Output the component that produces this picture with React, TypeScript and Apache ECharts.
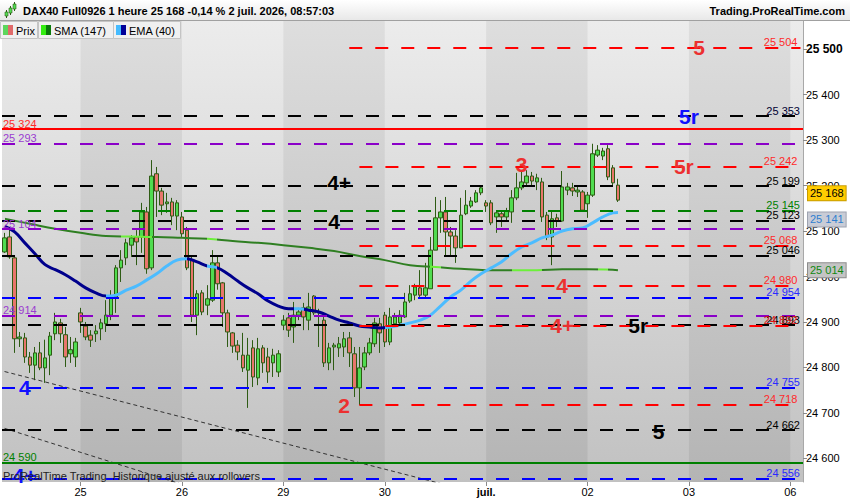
import { useEffect, useRef } from 'react';
import * as echarts from 'echarts';

const FONT = '"Liberation Sans", Arial, Helvetica, sans-serif';

// hourly bar slots: 20 per session, empty slots on the right for the coming sessions
const SLOT_COUNT = 158;

const dayLabels: [number, string][] = [
    [15, '25'], [35, '26'], [55, '29'], [75, '30'], [95, 'juil.'], [115, '02'], [135, '03'], [155, '06'],
];

// sessions drawn on the darker background band
const darkSessions: [number, number][] = [[15, 35], [55, 75], [95, 115], [135, 155]];

const priceTicks = [24600, 24700, 24800, 24900, 25000, 25100, 25200, 25300, 25400, 25500];

// hourly candles [open, close, low, high]
const candles: number[][] = [
    [25054, 25085, 25052, 25096], [25087, 25043, 25039, 25107], [25041, 24863, 24832, 25045], [24863, 24867, 24845, 24878],
    [24865, 24823, 24810, 24876], [24823, 24805, 24788, 24834], [24805, 24832, 24772, 24845], [24832, 24799, 24794, 24856],
    [24799, 24821, 24766, 24861], [24827, 24869, 24783, 24878], [24874, 24900, 24860, 24920], [24898, 24874, 24854, 24907],
    [24872, 24823, 24801, 24889], [24830, 24839, 24810, 24867], [24823, 24856, 24801, 24865], [24920, 24900, 24876, 24931],
    [24891, 24867, 24860, 24900], [24871, 24860, 24845, 24882], [24874, 24880, 24856, 24893], [24885, 24898, 24860, 24907],
    [24896, 24915, 24878, 24948], [24915, 24957, 24904, 24970], [24955, 25019, 24920, 25025], [25019, 25036, 24988, 25058],
    [25041, 25074, 25025, 25083], [25069, 25085, 25043, 25091], [25087, 25076, 25025, 25102], [25087, 25142, 25052, 25162],
    [25142, 25017, 25006, 25153], [25019, 25221, 25014, 25256], [25226, 25188, 25131, 25241], [25188, 25157, 25135, 25195],
    [25160, 25164, 25140, 25184], [25164, 25133, 25113, 25173], [25133, 25162, 25102, 25168], [25131, 25094, 25087, 25142],
    [25102, 25019, 25014, 25109], [25036, 24915, 24900, 25043], [24915, 24962, 24871, 24970], [24964, 24922, 24915, 24970],
    [24937, 24951, 24915, 24981], [24948, 25030, 24944, 25058], [25030, 24984, 24971, 25045], [24986, 24920, 24889, 24988],
    [24920, 24878, 24845, 24927], [24876, 24847, 24832, 24878], [24849, 24834, 24816, 24860], [24827, 24799, 24790, 24876],
    [24794, 24827, 24711, 24865], [24843, 24779, 24757, 24860], [24777, 24841, 24761, 24865], [24843, 24810, 24788, 24849],
    [24823, 24790, 24766, 24843], [24810, 24827, 24779, 24841], [24790, 24830, 24779, 24838], [24893, 24904, 24882, 24915],
    [24909, 24882, 24867, 24920], [24889, 24915, 24854, 24944], [24915, 24922, 24904, 24931], [24931, 24911, 24882, 24942],
    [24904, 24933, 24882, 24964], [24957, 24920, 24915, 24959], [24920, 24922, 24845, 24929], [24904, 24810, 24801, 24920],
    [24810, 24843, 24794, 24854], [24845, 24849, 24794, 24854], [24843, 24852, 24823, 24867], [24845, 24863, 24823, 24878],
    [24865, 24832, 24801, 24878], [24830, 24755, 24735, 24845], [24755, 24799, 24717, 24845], [24801, 24832, 24794, 24845],
    [24832, 24854, 24827, 24865], [24852, 24898, 24845, 24909], [24896, 24876, 24832, 24909], [24915, 24856, 24845, 24922],
    [24856, 24911, 24849, 24931], [24896, 24911, 24889, 24920], [24898, 24915, 24893, 24926], [24911, 24944, 24909, 24964],
    [24946, 24962, 24942, 24981], [24959, 24977, 24948, 24984], [24975, 24959, 24955, 25014], [24959, 24975, 24955, 25030],
    [24973, 25058, 24973, 25087], [25058, 25129, 25058, 25175], [25129, 25142, 25096, 25168], [25142, 25098, 25047, 25175],
    [25098, 25089, 25045, 25109], [25089, 25063, 25030, 25102], [25063, 25135, 25063, 25173], [25138, 25157, 25135, 25190],
    [25155, 25166, 25151, 25175], [25164, 25184, 25162, 25190], [25184, 25195, 25179, 25199], [25162, 25155, 25142, 25168],
    [25162, 25118, 25113, 25168], [25131, 25140, 25096, 25146], [25138, 25131, 25109, 25142], [25131, 25144, 25124, 25151],
    [25142, 25173, 25118, 25190], [25173, 25195, 25168, 25228], [25195, 25208, 25190, 25234], [25206, 25221, 25199, 25234],
    [25221, 25210, 25201, 25230], [25208, 25217, 25190, 25226], [25208, 25131, 25120, 25217], [25135, 25087, 25080, 25142],
    [25087, 25127, 25025, 25142], [25129, 25122, 25109, 25138], [25122, 25197, 25120, 25232], [25190, 25197, 25179, 25206],
    [25195, 25188, 25177, 25206], [25186, 25190, 25175, 25201], [25186, 25146, 25142, 25190], [25160, 25179, 25129, 25186],
    [25179, 25270, 25175, 25292], [25267, 25278, 25263, 25289], [25265, 25276, 25256, 25283], [25281, 25219, 25212, 25289],
    [25239, 25206, 25199, 25245], [25201, 25168, 25164, 25215],
];

// SMA (147) [slot, price]
const smaPoints: [number, number][] = [
    [0, 25127], [5, 25116], [10, 25105], [15, 25096], [20, 25089], [25, 25088], [30, 25087], [35, 25085],
    [40, 25083], [45, 25078], [50, 25074], [55, 25069], [60, 25063], [65, 25056], [70, 25045], [75, 25036],
    [80, 25025], [85, 25021], [90, 25017], [95, 25014], [100, 25014], [105, 25014], [110, 25016], [115, 25016],
    [120, 25015], [121, 25014],
];

// EMA (40) [slot, price]
const emaPoints: [number, number][] = [
    [0, 25111], [2, 25098], [4, 25074], [6, 25050], [8, 25026], [10, 25015], [12, 25004], [14, 24990],
    [16, 24975], [18, 24964], [20, 24957], [22, 24959], [24, 24970], [26, 24979], [28, 24992], [30, 25006],
    [32, 25023], [34, 25036], [36, 25039], [38, 25032], [40, 25023], [42, 25019], [44, 25006], [46, 24990],
    [48, 24975], [50, 24962], [52, 24946], [54, 24935], [56, 24929], [58, 24929], [60, 24926], [62, 24922],
    [64, 24913], [66, 24904], [68, 24898], [70, 24891], [72, 24889], [74, 24887], [76, 24889], [78, 24893],
    [80, 24898], [82, 24904], [84, 24915], [86, 24935], [88, 24955], [90, 24970], [92, 24990], [94, 25006],
    [96, 25019], [98, 25032], [100, 25050], [102, 25065], [104, 25074], [106, 25085], [108, 25091], [110, 25100],
    [112, 25105], [114, 25107], [116, 25118], [118, 25131], [120, 25140], [121, 25141],
];

// slot ranges where each average is rising (light colour)
const smaRising: [number, number][] = [[23, 29], [40, 42], [84, 86], [100, 106], [117, 119]];
const emaRising: [number, number][] = [[20, 36], [40, 42], [57, 59], [75, 158]];

// dotted trend lines, two points each [slot, price]
const trendA: [number, number][] = [[0, 24791], [110, 24476]];
const trendB: [number, number][] = [[0, 24666], [60, 24455]];

const RED = '#ff0000';
const BLACK = '#000000';
const PURPLE = '#8a00c8';
const GREEN = '#008000';
const BLUE = '#0000ff';

type Level = { price: number; color: string; side: 'left' | 'right'; from?: number; solid?: boolean; text?: string };

const levels: Level[] = [
    { price: 25504, color: RED, side: 'right', from: 68, text: '#ff2a2a' },
    { price: 25353, color: BLACK, side: 'right', text: '#000033' },
    { price: 25324, color: RED, side: 'left', solid: true, text: '#ff2a2a' },
    { price: 25293, color: PURPLE, side: 'left', text: '#9a3cd0' },
    { price: 25242, color: RED, side: 'right', from: 70, text: '#ff2a2a' },
    { price: 25199, color: BLACK, side: 'right' },
    { price: 25145, color: GREEN, side: 'right' },
    { price: 25123, color: BLACK, side: 'right' },
    { price: 25104, color: PURPLE, side: 'left', text: '#9a3cd0' },
    { price: 25068, color: RED, side: 'right', from: 70, text: '#ff2a2a' },
    { price: 25046, color: BLACK, side: 'right' },
    { price: 24980, color: RED, side: 'right', from: 70, text: '#ff2a2a' },
    { price: 24954, color: BLUE, side: 'right', text: '#2a2aff' },
    { price: 24914, color: PURPLE, side: 'left', text: '#9a3cd0' },
    { price: 24893, color: BLACK, side: 'right' },
    { price: 24892, color: RED, side: 'right', from: 70, text: '#e01010' },
    { price: 24755, color: BLUE, side: 'right', text: '#2a2aff' },
    { price: 24718, color: RED, side: 'right', from: 70, text: '#ff2a2a' },
    { price: 24662, color: BLACK, side: 'right' },
    { price: 24590, color: GREEN, side: 'left', solid: true },
    { price: 24556, color: BLUE, side: 'right', text: '#2a2aff' },
];

// big wave marks [slot, price, text, colour]
const MARK_RED = '#ec3030';
const MARK_BLUE = '#1010ff';
const marks: [number, number, string, string][] = [
    [137, 25504, '5', MARK_RED],
    [135, 25353, '5r', MARK_BLUE],
    [134, 25242, '5r', MARK_RED],
    [102, 25247, '3', MARK_RED],
    [66, 25206, '4+', BLACK],
    [65, 25121, '4', BLACK],
    [110, 24980, '4', MARK_RED],
    [110, 24892, '4+', MARK_RED],
    [125, 24892, '5r', BLACK],
    [4, 24755, '4', MARK_BLUE],
    [67, 24717, '2', MARK_RED],
    [129, 24660, '5', BLACK],
    [4, 24563, '4+', MARK_BLUE],
];

// price tags on the right scale
const tags = [
    { price: 25168, bg: '#ffcc00', border: '#c89c00', color: '#000000', shift: -7 },
    { price: 25141, bg: '#c9ccd6', border: '#9ea3b0', color: '#2f7fd0', shift: 7 },
    { price: 25014, bg: '#c4c4c4', border: '#8c8c8c', color: '#118811', shift: 0 },
];

const fmt = (v: number) => `${Math.floor(v / 1000)} ${String(v % 1000).padStart(3, '0')}`;

function sparse(points: [number, number][]) {
    const arr: (number | string)[] = new Array(SLOT_COUNT).fill('-');
    points.forEach(([i, v]) => { arr[i] = v; });
    return arr;
}

function pieces(rising: [number, number][], light: string, dark: string) {
    const out: any[] = [];
    let pos = 0;
    rising.forEach(([a, b]) => {
        if (a > pos) out.push({ gte: pos, lt: a, color: dark });
        out.push({ gte: a, lt: b, color: light });
        pos = b;
    });
    if (pos < SLOT_COUNT) out.push({ gte: pos, lte: SLOT_COUNT, color: dark });
    return out;
}

export default function App() {
    const chartRef = useRef<HTMLDivElement>(null);

    useEffect(() => {
        if (!chartRef.current) return;
        const chart = echarts.init(chartRef.current, null, { renderer: 'svg' });

        const slots = Array.from({ length: SLOT_COUNT }, (_, i) => 's' + i);
        const labelAt = new Map(dayLabels);

        const levelData = levels.map((l) => {
            const lineStyle = { color: l.color, width: 2, type: l.solid ? 'solid' : [13, 13] };
            const label = {
                show: true,
                position: l.side === 'left' ? 'insideStartTop' : 'insideEndTop',
                formatter: fmt(l.price),
                color: l.text ?? l.color,
                fontSize: 11,
                fontFamily: FONT,
                distance: [l.side === 'left' ? 1 : 3, 0],
            };
            if (l.from == null) return { yAxis: l.price, lineStyle, label };
            return [{ coord: [l.from, l.price], lineStyle, label }, { coord: [SLOT_COUNT - 1, l.price] }];
        });

        const tagData = tags.map((t) => ({
            yAxis: t.price,
            lineStyle: { color: 'rgba(0,0,0,0)', width: 1 },
            label: {
                show: true,
                position: 'end',
                distance: 5,
                offset: [0, t.shift],
                formatter: fmt(t.price),
                color: t.color,
                backgroundColor: t.bg,
                borderColor: t.border,
                borderWidth: 1,
                padding: [2, 2, 1, 2],
                fontSize: 11,
                fontFamily: FONT,
            },
        }));

        const legendBox = (x: number, w: number, c1: string, c2: string, text: string) => [
            { type: 'rect', z: 100, shape: { x: x + 0.5, y: 21.5, width: w, height: 17 }, style: { fill: '#f0f0f0', stroke: '#c4c4c4', lineWidth: 1 } },
            { type: 'rect', z: 101, shape: { x: x + 3, y: 25, width: 5, height: 10 }, style: { fill: c1 } },
            { type: 'rect', z: 101, shape: { x: x + 8, y: 25, width: 5, height: 10 }, style: { fill: c2 } },
            { type: 'text', z: 101, x: x + 16, y: 30.5, style: { text, fontSize: 11, fontFamily: FONT, fill: '#000', verticalAlign: 'middle' } },
        ];

        const iconCandle = (x: number, top: number, bottom: number, wt: number, wb: number) => [
            { type: 'line', z: 101, shape: { x1: x + 1.5, y1: wt, x2: x + 1.5, y2: wb }, style: { stroke: '#2e5b14', lineWidth: 1 } },
            { type: 'rect', z: 102, shape: { x, y: top, width: 3, height: bottom - top }, style: { fill: '#55dd55', stroke: '#2e5b14', lineWidth: 0.6 } },
        ];

        const option: any = {
            animation: false,
            backgroundColor: '#ffffff',
            textStyle: { fontFamily: FONT },
            grid: {
                left: 2,
                right: 47,
                top: 21,
                bottom: 18,
                containLabel: false,
                outerBoundsMode: 'none',
                show: true,
                borderWidth: 0,
                backgroundColor: new echarts.graphic.LinearGradient(0, 0, 0, 1, [
                    { offset: 0, color: '#ececec' },
                    { offset: 1, color: '#c1c1c1' },
                ]),
            },
            xAxis: {
                type: 'category',
                data: slots,
                boundaryGap: true,
                axisLine: { show: false },
                axisTick: {
                    show: true,
                    alignWithLabel: true,
                    interval: (i: number) => labelAt.has(i),
                    length: 4,
                    lineStyle: { color: '#8a8a8a' },
                },
                axisLabel: {
                    interval: (i: number) => labelAt.has(i),
                    formatter: (_v: string, i: number) => {
                        const t = labelAt.get(i) ?? '';
                        return t === 'juil.' ? '{b|juil.}' : t;
                    },
                    color: '#000',
                    fontSize: 11,
                    fontFamily: FONT,
                    margin: 4,
                    rich: { b: { fontWeight: 'bold', fontSize: 11, fontFamily: FONT, color: '#000' } },
                },
                splitLine: { show: false },
            },
            yAxis: {
                type: 'value',
                position: 'right',
                min: 24548,
                max: 25562,
                axisLine: { show: true, lineStyle: { color: '#a8a8a8' } },
                axisTick: { show: true, customValues: priceTicks, length: 4, lineStyle: { color: '#8a8a8a' } },
                axisLabel: {
                    customValues: priceTicks,
                    formatter: (v: number) => (v === 25500 ? `{b|${fmt(v)}}` : fmt(v)),
                    color: '#000',
                    fontSize: 11,
                    fontFamily: FONT,
                    margin: 3,
                    rich: { b: { fontWeight: 'bold', fontSize: 12, fontFamily: FONT, color: '#000' } },
                },
                splitLine: { show: false },
            },
            visualMap: [
                { type: 'piecewise', show: false, dimension: 0, seriesIndex: 1, pieces: pieces(smaRising, '#6cf03a', '#2f7f22') },
                { type: 'piecewise', show: false, dimension: 0, seriesIndex: 2, pieces: pieces(emaRising, '#4cbcff', '#00008c') },
            ],
            series: [
                {
                    name: 'Prix',
                    type: 'candlestick',
                    data: candles,
                    barWidth: 4,
                    itemStyle: {
                        color: '#50dc50',
                        color0: '#e8766c',
                        borderColor: '#2e5b14',
                        borderColor0: '#2e5b14',
                        borderWidth: 1,
                    },
                    markArea: {
                        silent: true,
                        itemStyle: {
                            color: new echarts.graphic.LinearGradient(0, 0, 0, 1, [
                                { offset: 0, color: '#dedede' },
                                { offset: 1, color: '#b4b4b4' },
                            ]),
                        },
                        data: darkSessions.map(([a, b]) => [{ xAxis: a }, { xAxis: b }]),
                    },
                    markLine: {
                        silent: true,
                        symbol: ['none', 'none'],
                        animation: false,
                        data: levelData,
                    },
                },
                {
                    name: 'SMA (147)',
                    type: 'line',
                    data: sparse(smaPoints),
                    connectNulls: true,
                    smooth: 0.4,
                    symbol: 'none',
                    lineStyle: { width: 2 },
                    z: 3,
                },
                {
                    name: 'EMA (40)',
                    type: 'line',
                    data: sparse(emaPoints),
                    connectNulls: true,
                    smooth: 0.4,
                    symbol: 'none',
                    lineStyle: { width: 3 },
                    z: 3,
                },
                {
                    type: 'line',
                    data: sparse(trendA),
                    connectNulls: true,
                    symbol: 'none',
                    lineStyle: { color: '#333', width: 1, type: [4, 3] },
                    z: 3,
                },
                {
                    type: 'line',
                    data: sparse(trendB),
                    connectNulls: true,
                    symbol: 'none',
                    lineStyle: { color: '#333', width: 1, type: [4, 3] },
                    z: 3,
                },
                {
                    type: 'scatter',
                    symbolSize: 1,
                    itemStyle: { color: 'rgba(0,0,0,0)', opacity: 1 },
                    silent: true,
                    z: 6,
                    data: marks.map(([k, p, t, c]) => ({ value: [k, p], name: t, label: { color: c } })),
                    label: {
                        show: true,
                        position: 'inside',
                        formatter: '{b}',
                        fontSize: 21,
                        fontWeight: 'bold',
                        fontFamily: FONT,
                        textBorderWidth: 0,
                        opacity: 1,
                    },
                },
                {
                    type: 'line',
                    data: [],
                    symbol: 'none',
                    z: 7,
                    markLine: {
                        silent: true,
                        symbol: ['none', 'none'],
                        animation: false,
                        data: tagData,
                    },
                },
            ],
            graphic: [
                {
                    type: 'rect', z: 100, shape: { x: 0, y: 0, width: 850, height: 20 },
                    style: {
                        fill: new echarts.graphic.LinearGradient(0, 0, 0, 1, [
                            { offset: 0, color: '#ffffff' },
                            { offset: 1, color: '#e8e8e8' },
                        ]),
                    },
                },
                { type: 'line', z: 100, shape: { x1: 0, y1: 20.5, x2: 850, y2: 20.5 }, style: { stroke: '#a0a0a0', lineWidth: 1 } },
                ...iconCandle(5, 12, 16, 10, 18),
                ...iconCandle(9, 8, 13, 6, 15),
                ...iconCandle(13, 4, 9, 2, 11),
                {
                    type: 'text', z: 101, x: 23, y: 11,
                    style: { text: 'DAX40 Full0926 1 heure 25 168 -0,14 % 2 juil. 2026, 08:57:03', fontSize: 11, fontWeight: 'bold', fontFamily: FONT, fill: '#000', verticalAlign: 'middle' },
                },
                {
                    type: 'text', z: 101, x: 845, y: 11,
                    style: { text: 'Trading.ProRealTime.com', fontSize: 11, fontWeight: 'bold', fontFamily: FONT, fill: '#000', align: 'right', verticalAlign: 'middle' },
                },
                ...legendBox(0, 37, '#5cd65c', '#e06a6a', 'Prix'),
                ...legendBox(38, 75, '#33ee11', '#0a7a0a', 'SMA (147)'),
                ...legendBox(113, 67, '#44bbff', '#000099', 'EMA (40)'),
                {
                    type: 'text', z: 101, x: 3, y: 476,
                    style: { text: 'ProRealTime Trading  Historique ajusté aux rollovers', fontSize: 11, fontFamily: FONT, fill: '#222', verticalAlign: 'middle' },
                },
            ],
        };

        chart.setOption(option);

        return () => {
            chart.dispose();
        };
    }, []);

    return (
        <div
            ref={chartRef}
            style={{ position: 'fixed', left: 0, top: 0, width: 850, height: 500, background: '#fff' }}
        />
    );
}
